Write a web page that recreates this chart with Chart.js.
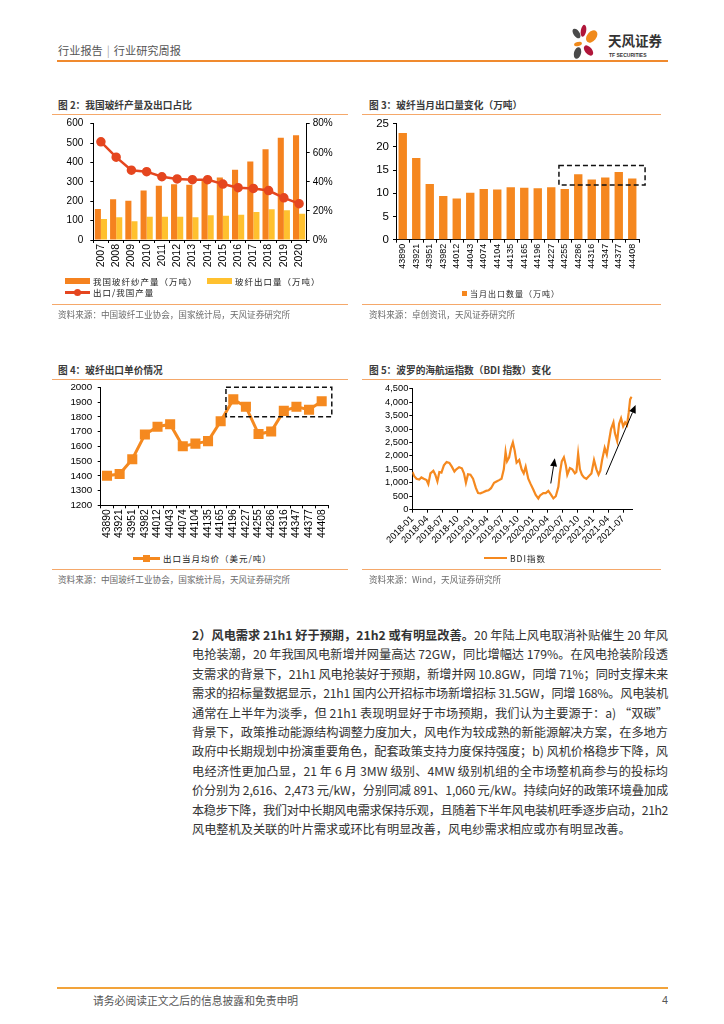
<!DOCTYPE html>
<html>
<head>
<meta charset="utf-8">
<script src="https://cdn.jsdelivr.net/npm/chart.js@4.4.0/dist/chart.umd.min.js"></script>
<style>
body{margin:0;background:#fff;width:724px;height:1024px;position:relative;overflow:hidden;font-family:"Noto Sans CJK SC",sans-serif;}
.abs{position:absolute;white-space:nowrap;}
.title{font-size:9.7px;font-weight:bold;color:#3a3a3a;line-height:12px;height:12px;}
.rule{position:absolute;height:1px;background:#F5A86A;}
.src{font-size:8.6px;color:#6b6b6b;line-height:12px;height:12px;}
.lg{font-size:8.5px;letter-spacing:1px;color:#222;line-height:12px;height:12px;}
canvas{position:absolute;}
.para{position:absolute;left:192px;top:626px;width:476px;font-size:12.2px;color:#333;}
.para div{height:19.4px;line-height:19.4px;white-space:nowrap;}
.para div.j{text-align:justify;text-align-last:justify;}
</style>
</head>
<body>

<!-- header -->
<div class="abs" style="left:58px;top:43px;font-size:11.2px;line-height:14px;color:#555;">行业报告<span style="color:#aaa;margin:0 4px;">|</span>行业研究周报</div>
<div class="abs" style="left:57px;top:59.5px;width:611px;height:2px;background:#F08A2E;"></div>
<svg class="abs" style="left:566px;top:20px;" width="105" height="42" viewBox="566 20 105 42">
  <ellipse cx="576.5" cy="33.5" rx="3" ry="5.5" fill="#4a4a4a" transform="rotate(-35 576.5 33.5)"/>
  <ellipse cx="583.5" cy="30.8" rx="2.7" ry="6" fill="#B0163A" transform="rotate(10 583.5 30.8)"/>
  <ellipse cx="591.7" cy="36.5" rx="4.6" ry="7" fill="#F08A1C" transform="rotate(40 591.7 36.5)"/>
  <ellipse cx="578" cy="44" rx="4" ry="2" fill="#F08A1C" transform="rotate(-15 578 44)"/>
  <ellipse cx="577.5" cy="53" rx="3.5" ry="6" fill="#4a4a4a" transform="rotate(15 577.5 53)"/>
  <ellipse cx="588.5" cy="50.5" rx="3.5" ry="6" fill="#B0163A" transform="rotate(-40 588.5 50.5)"/>
  <text x="608" y="46" font-family="Noto Sans CJK SC" font-weight="bold" font-size="13.5" fill="#333">天风证券</text>
  <text x="609" y="56.5" font-family="Liberation Sans" font-weight="bold" font-size="5" fill="#333">TF SECURITIES</text>
</svg>

<!-- figure 2 -->
<div class="abs title" style="left:58px;top:99px;">图 2：我国玻纤产量及出口占比</div>
<div class="rule" style="left:52px;top:114px;width:296px;"></div>
<canvas id="c2" width="295" height="160" style="left:52px;top:116px;"></canvas>
<div class="abs" style="left:65px;top:278px;width:25px;height:6px;background:#F5821F;"></div>
<div class="abs lg" style="left:93px;top:275px;">我国玻纤纱产量（万吨）</div>
<div class="abs" style="left:207px;top:278px;width:25px;height:6px;background:#FFC12F;"></div>
<div class="abs lg" style="left:235px;top:275px;">玻纤出口量（万吨）</div>
<div class="abs" style="left:65px;top:291px;width:25px;height:2.5px;background:#E5461F;"></div>
<div class="abs" style="left:73.5px;top:288.7px;width:7px;height:7px;border-radius:50%;background:#E5461F;"></div>
<div class="abs lg" style="left:93px;top:286px;">出口/我国产量</div>
<div class="rule" style="left:52px;top:304px;width:296px;"></div>
<div class="abs src" style="left:58px;top:308px;">资料来源：中国玻纤工业协会，国家统计局，天风证券研究所</div>

<!-- figure 3 -->
<div class="abs title" style="left:369px;top:99px;">图 3：玻纤当月出口量变化（万吨）</div>
<div class="rule" style="left:362px;top:114px;width:299px;"></div>
<canvas id="c3" width="300" height="160" style="left:360px;top:116px;"></canvas>
<div class="abs" style="left:462px;top:291px;width:5px;height:5px;background:#F5871F;"></div>
<div class="abs lg" style="left:470px;top:288px;font-size:8px;">当月出口数量（万吨）</div>
<div class="rule" style="left:362px;top:304px;width:299px;"></div>
<div class="abs src" style="left:369px;top:308px;">资料来源：卓创资讯，天风证券研究所</div>

<!-- figure 4 -->
<div class="abs title" style="left:58px;top:364px;">图 4：玻纤出口单价情况</div>
<div class="rule" style="left:52px;top:379px;width:296px;"></div>
<canvas id="c4" width="295" height="160" style="left:52px;top:381px;"></canvas>
<div class="abs" style="left:133px;top:556.5px;width:27px;height:3px;background:#F5891F;"></div>
<div class="abs" style="left:142.5px;top:554.5px;width:7px;height:7px;background:#F5891F;"></div>
<div class="abs lg" style="left:163px;top:552px;">出口当月均价（美元/吨）</div>
<div class="rule" style="left:52px;top:569px;width:296px;"></div>
<div class="abs src" style="left:58px;top:573px;">资料来源：中国玻纤工业协会，国家统计局，天风证券研究所</div>

<!-- figure 5 -->
<div class="abs title" style="left:369px;top:364px;">图 5：波罗的海航运指数（BDI 指数）变化</div>
<div class="rule" style="left:362px;top:379px;width:299px;"></div>
<canvas id="c5" width="300" height="172" style="left:360px;top:381px;"></canvas>
<div class="abs" style="left:484px;top:557.3px;width:23px;height:2px;background:#F5891F;"></div>
<div class="abs lg" style="left:510px;top:552px;">BDI指数</div>
<div class="rule" style="left:362px;top:569px;width:299px;"></div>
<div class="abs src" style="left:369px;top:573px;">资料来源：Wind，天风证券研究所</div>

<!-- body text -->
<div class="para" id="para">
<div><b>2）风电需求 21h1 好于预期，21h2 或有明显改善。</b>20 年陆上风电取消补贴催生 20 年风</div>
<div>电抢装潮，20 年我国风电新增并网量高达 72GW，同比增幅达 179%。在风电抢装阶段透</div>
<div>支需求的背景下，21h1 风电抢装好于预期，新增并网 10.8GW，同增 71%；同时支撑未来</div>
<div>需求的招标量数据显示，21h1 国内公开招标市场新增招标 31.5GW，同增 168%。风电装机</div>
<div>通常在上半年为淡季，但 21h1 表现明显好于市场预期，我们认为主要源于：a) “双碳”</div>
<div>背景下，政策推动能源结构调整力度加大，风电作为较成熟的新能源解决方案，在多地方</div>
<div>政府中长期规划中扮演重要角色，配套政策支持力度保持强度；b) 风机价格稳步下降，风</div>
<div>电经济性更加凸显，21 年 6 月 3MW 级别、4MW 级别机组的全市场整机商参与的投标均</div>
<div>价分别为 2,616、2,473 元/kW，分别同减 891、1,060 元/kW。持续向好的政策环境叠加成</div>
<div>本稳步下降，我们对中长期风电需求保持乐观，且随着下半年风电装机旺季逐步启动，21h2</div>
<div>风电整机及关联的叶片需求或环比有明显改善，风电纱需求相应或亦有明显改善。</div>
</div>

<!-- footer -->
<div class="abs" style="left:57px;top:987px;width:611px;height:2px;background:#F2A33A;"></div>
<div class="abs" style="left:93px;top:993px;font-size:10.8px;line-height:14px;color:#555;">请务必阅读正文之后的信息披露和免责申明</div>
<div class="abs" style="left:662px;top:993px;font-size:10.8px;line-height:14px;color:#555;font-family:'Liberation Sans';">4</div>

<script>
// 图2：玻纤产量 / 出口
const years = ['2007','2008','2009','2010','2011','2012','2013','2014','2015','2016','2017','2018','2019','2020'];
const glassOutput = [160, 210, 203, 256, 280, 288, 285, 312, 323, 362, 405, 468, 527, 541];
const glassExport = [108, 118, 97, 120, 120, 120, 117, 128, 125, 130, 145, 158, 153, 135];
const exportRatio = [67.5, 57, 48, 47, 43.5, 42, 41.5, 41.5, 38.5, 36, 35.5, 34, 29, 25];

// 图3 / 图4：月度（Excel 日期序号）
const months = ['43890','43921','43951','43982','44012','44043','44074','44104','44135','44165','44196','44227','44255','44286','44316','44347','44377','44408'];
const monthlyExport = [23, 17.6, 12, 9.4, 8.9, 10.1, 10.9, 10.8, 11.3, 11.2, 11.1, 11.3, 10.9, 14.1, 13.0, 13.4, 14.6, 13.2];
const exportPrice = [1400, 1412, 1512, 1680, 1733, 1750, 1600, 1618, 1635, 1770, 1918, 1868, 1683, 1700, 1840, 1868, 1848, 1905];

// 图5：BDI
const bdiDates = ['2018-01-02','2018-01-13','2018-01-27','2018-02-13','2018-02-26','2018-03-10','2018-03-27','2018-04-07','2018-04-20','2018-05-07','2018-05-19','2018-06-01','2018-06-13','2018-06-26','2018-07-10','2018-07-27','2018-08-13','2018-08-28','2018-09-13','2018-09-25','2018-10-11','2018-10-28','2018-11-10','2018-11-22','2018-12-04','2018-12-19','2019-01-04','2019-01-22','2019-02-04','2019-02-19','2019-03-04','2019-03-22','2019-04-07','2019-04-22','2019-05-10','2019-05-25','2019-06-10','2019-06-25','2019-07-08','2019-07-19','2019-07-28','2019-08-10','2019-08-22','2019-09-02','2019-09-13','2019-09-25','2019-10-10','2019-10-25','2019-11-07','2019-11-19','2019-12-04','2019-12-19','2020-01-04','2020-01-19','2020-02-04','2020-02-15','2020-03-04','2020-03-19','2020-04-04','2020-04-16','2020-05-04','2020-05-19','2020-06-04','2020-06-13','2020-06-25','2020-07-07','2020-07-19','2020-07-28','2020-08-13','2020-08-28','2020-09-13','2020-09-22','2020-10-02','2020-10-13','2020-10-25','2020-11-07','2020-11-22','2020-12-07','2020-12-22','2021-01-07','2021-01-22','2021-02-04','2021-02-15','2021-02-26','2021-03-11','2021-03-24','2021-04-05','2021-04-19','2021-05-03','2021-05-12','2021-05-26','2021-06-07','2021-06-19','2021-07-01','2021-07-13','2021-07-25','2021-08-04','2021-08-13','2021-08-22'];
const bdiValues = [1400,1250,1150,1120,1200,1150,1100,950,1350,1450,1300,1050,1400,1380,1650,1770,1740,1600,1420,1500,1580,1540,1350,1000,1320,1300,1150,800,620,610,650,700,720,800,1000,1050,1100,1150,1500,2150,1800,1950,2300,2500,2200,1750,1850,1500,1350,1600,1150,950,750,550,420,530,620,620,700,600,420,500,850,1350,1800,1950,1650,1300,1550,1500,1350,1400,2080,1500,1300,1200,1150,1250,1350,1850,1500,1300,1450,1850,2300,2050,2500,3000,3250,2850,2550,3200,3400,3100,3250,3150,3600,4100,4200];

const ORANGE = '#F5821F';
const tickFont = (size) => ({family: 'Liberation Sans', size: size});

function axis(extra) {
    const a = {
        border: {color: '#000', width: 1},
        grid: {display: true, drawOnChartArea: false, drawTicks: true, tickLength: 3, color: '#000'},
        ticks: {color: '#000', font: tickFont(10), padding: 3, autoSkip: false}
    };
    for (const k in extra) {
        if (typeof extra[k] === 'object' && !Array.isArray(extra[k]) && a[k]) Object.assign(a[k], extra[k]);
        else a[k] = extra[k];
    }
    return a;
}

// fixed width for value axes, no extra top/bottom padding from labels
const fixW = w => s => { s.width = w; s.paddingTop = 0; s.paddingBottom = 0; };

// dashed highlight box, x in category index units
function dashBox(x0, x1, y0, y1) {
    return {
        id: 'dashBox',
        afterDatasetsDraw(chart) {
            const xs = chart.scales.x, ys = chart.scales.y;
            const cw = xs.width / chart.data.labels.length;
            const base = xs.left + cw / 2;
            const l = base + x0 * cw, r = base + x1 * cw;
            const t = ys.getPixelForValue(y1), b = ys.getPixelForValue(y0);
            const ctx = chart.ctx;
            ctx.save();
            ctx.strokeStyle = '#111';
            ctx.lineWidth = 1.5;
            ctx.setLineDash([5, 3]);
            ctx.strokeRect(l, t, r - l, b - t);
            ctx.restore();
        }
    };
}

const noLegend = {legend: {display: false}, tooltip: {enabled: false}};

// 图2
new Chart(document.getElementById('c2'), {
    type: 'bar',
    data: {
        labels: years,
        datasets: [
            {type: 'line', data: exportRatio, yAxisID: 'y1', borderColor: '#E5461F', backgroundColor: '#E5461F',
             borderWidth: 2.5, pointRadius: 3.5, order: 0},
            {data: glassOutput, backgroundColor: ORANGE, yAxisID: 'y', order: 1},
            {data: glassExport, backgroundColor: '#FFC12F', yAxisID: 'y', order: 1}
        ]
    },
    options: {
        responsive: false, animation: false,
        plugins: noLegend,
        layout: {autoPadding: false, padding: {top: 7.7}},
        datasets: {bar: {categoryPercentage: 0.8, barPercentage: 1}},
        scales: {
            x: axis({ticks: {minRotation: 90, maxRotation: 90, padding: 1, font: tickFont(10.5)},
                     afterFit: s => { s.height = 36; }}),
            y: axis({min: 0, max: 600, ticks: {stepSize: 100, padding: 7}, afterFit: fixW(41.3)}),
            y1: axis({position: 'right', min: 0, max: 80,
                      ticks: {stepSize: 20, padding: 3, callback: v => v + '%'},
                      afterFit: fixW(40.3)})
        }
    }
});

// 图3
new Chart(document.getElementById('c3'), {
    type: 'bar',
    data: {labels: months, datasets: [{data: monthlyExport, backgroundColor: '#F5871F', categoryPercentage: 0.62, barPercentage: 1}]},
    options: {
        responsive: false, animation: false,
        plugins: noLegend,
        layout: {autoPadding: false, padding: {top: 7.7, right: 21}},
        scales: {
            x: axis({ticks: {minRotation: 90, maxRotation: 90, padding: 1, font: tickFont(9)},
                     afterFit: s => { s.height = 36.3; }}),
            y: axis({min: 0, max: 25, ticks: {stepSize: 5, padding: 4, font: tickFont(11.5)},
                     afterFit: fixW(36)})
        }
    },
    plugins: [dashBox(-0.43 + 12, 17.95, 11.8, 16)]
});

// 图4
new Chart(document.getElementById('c4'), {
    type: 'line',
    data: {labels: months, datasets: [{data: exportPrice, borderColor: '#F5891F', backgroundColor: '#F5891F',
        borderWidth: 3, pointStyle: 'rect', pointRadius: 5}]},
    options: {
        responsive: false, animation: false,
        plugins: noLegend,
        layout: {autoPadding: false, padding: {top: 6.3, right: 19}},
        scales: {
            x: axis({offset: true, grid: {offset: true},
                     ticks: {minRotation: 90, maxRotation: 90, padding: 1, font: tickFont(10.3)},
                     afterFit: s => { s.height = 35.7; }}),
            y: axis({min: 1200, max: 2000, ticks: {stepSize: 100, padding: 5.5, font: tickFont(9.8), callback: v => String(v)},
                     afterFit: fixW(48.7)})
        }
    },
    plugins: [dashBox(10 - 0.58, 17.8, 1800, 2000)]
});

// 图5
const monthIndex = d => {
    const p = d.split('-').map(Number);
    return (p[0] - 2018) * 12 + (p[1] - 1) + (p[2] - 1) / 31;
};
const arrows = [
    {from: ['2020-04-19', 975], to: ['2020-05-13', 1910]},
    {from: ['2021-03-19', 1300], to: ['2021-09-16', 3890]}
];
const arrowPlugin = {
    id: 'arrows',
    afterDatasetsDraw(chart) {
        const xs = chart.scales.x, ys = chart.scales.y, ctx = chart.ctx;
        ctx.save();
        ctx.strokeStyle = '#000';
        ctx.fillStyle = '#000';
        ctx.lineWidth = 1;
        arrows.forEach(a => {
            const x0 = xs.getPixelForValue(monthIndex(a.from[0])), y0 = ys.getPixelForValue(a.from[1]);
            const x1 = xs.getPixelForValue(monthIndex(a.to[0])), y1 = ys.getPixelForValue(a.to[1]);
            const ang = Math.atan2(y1 - y0, x1 - x0);
            const hl = 8, hw = 3.5;
            const bx = x1 - hl * Math.cos(ang), by = y1 - hl * Math.sin(ang);
            ctx.beginPath();
            ctx.moveTo(x0, y0);
            ctx.lineTo(bx, by);
            ctx.stroke();
            ctx.beginPath();
            ctx.moveTo(x1, y1);
            ctx.lineTo(bx + hw * Math.sin(ang), by - hw * Math.cos(ang));
            ctx.lineTo(bx - hw * Math.sin(ang), by + hw * Math.cos(ang));
            ctx.closePath();
            ctx.fill();
        });
        ctx.restore();
    }
};
new Chart(document.getElementById('c5'), {
    type: 'line',
    data: {datasets: [{data: bdiDates.map((d, i) => ({x: monthIndex(d), y: bdiValues[i]})),
        borderColor: '#F5891F', borderWidth: 2.2, pointRadius: 0, tension: 0}]},
    options: {
        responsive: false, animation: false,
        plugins: noLegend,
        layout: {autoPadding: false, padding: {top: 7.7, right: 27.3}},
        scales: {
            x: axis({type: 'linear', min: 0, max: 43.9,
                     ticks: {stepSize: 3, includeBounds: false, minRotation: 45, maxRotation: 45,
                             padding: 1, font: tickFont(9.3),
                             callback: v => (2018 + Math.floor(v / 12)) + '-' + String(v % 12 + 1).padStart(2, '0')},
                     afterFit: s => { s.height = 43.3; }}),
            y: axis({min: 0, max: 4500, ticks: {stepSize: 500, padding: 1, font: tickFont(9.3),
                     callback: v => v.toLocaleString('en-US')},
                     afterFit: fixW(52.3)})
        }
    },
    plugins: [arrowPlugin]
});

// justify paragraph lines (squeeze lines that are too long)
const lines = document.querySelectorAll('#para div');
lines.forEach((d, i) => {
    const w = d.scrollWidth;
    if (w > 476) d.style.letterSpacing = ((476 - w) / d.textContent.length) + 'px';
    if (i < lines.length - 1) d.classList.add('j');
});
</script>
</body>
</html>
